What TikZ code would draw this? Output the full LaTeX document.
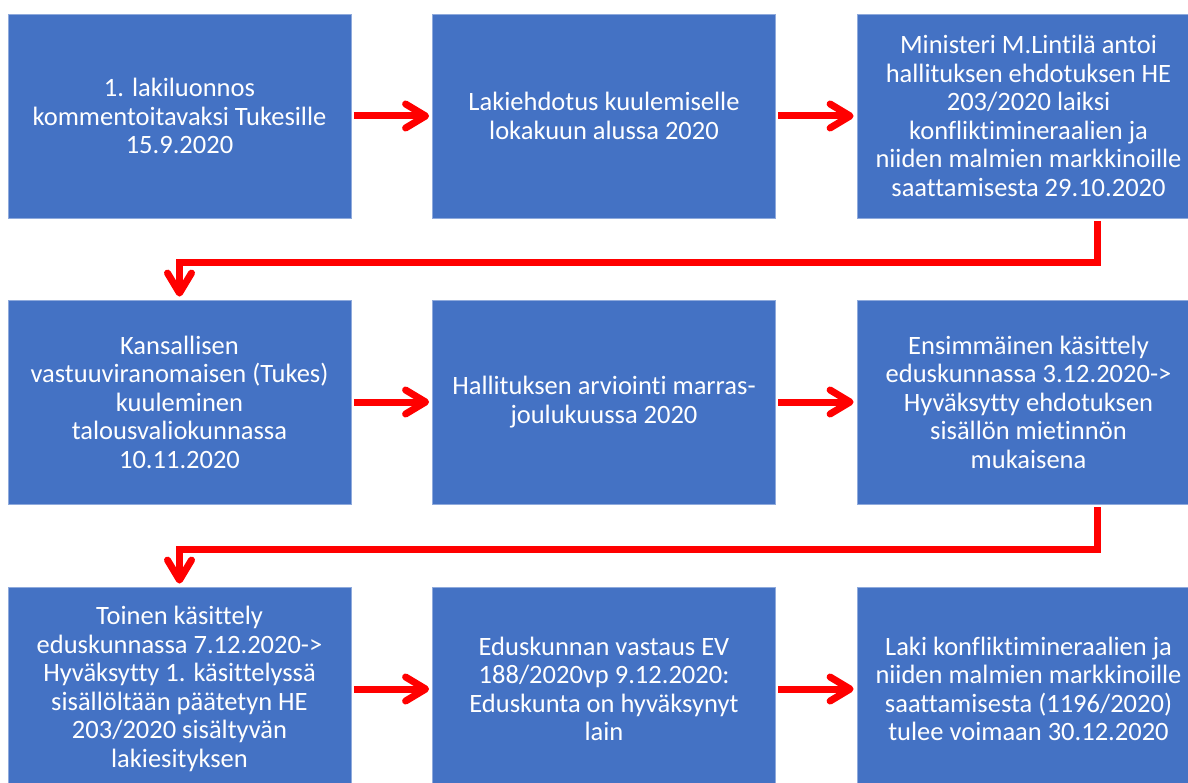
\documentclass[tikz,border=0pt]{standalone}
\usepackage{fontspec}
\setmainfont{Carlito}[Ligatures=NoCommon]
\usetikzlibrary{arrows.meta}
\definecolor{boxblue}{HTML}{4472C4}
\definecolor{boxedge}{HTML}{8FAADC}
\definecolor{arrred}{HTML}{FF0000}
\begin{document}
\begin{tikzpicture}[x=1pt,y=1pt,
  stepbox/.style={rectangle, fill=boxblue, draw=boxedge, line width=0.8pt,
    minimum width=343pt, minimum height=204pt, inner sep=0pt,
    text=white, align=center, font=\fontsize{26.5}{28.5}\selectfont},
  flow/.style={draw=arrred, line width=7pt,
    -{Straight Barb[length=20pt,width=24pt,line cap=round,line join=round]}},
  elbow/.style={draw=arrred, line width=7pt, line join=miter,
    -{Straight Barb[length=20pt,width=24pt,line cap=round,line join=round]}}]
\useasboundingbox (0,0) rectangle (1188,-783);
% row 1
\node[stepbox] (a1) at (179.5,-116) {1. lakiluonnos\\kommentoitavaksi Tukesille\\15.9.2020};
\node[stepbox] (a2) at (604,-116) {Lakiehdotus kuulemiselle\\lokakuun alussa 2020};
\node[stepbox] (a3) at (1028.5,-116) {Ministeri M.Lintilä antoi\\hallituksen ehdotuksen HE\\203/2020 laiksi\\konfliktimineraalien ja\\niiden malmien markkinoille\\saattamisesta 29.10.2020};
% row 2
\node[stepbox] (b1) at (179.5,-402) {Kansallisen\\vastuuviranomaisen (Tukes)\\kuuleminen\\talousvaliokunnassa\\10.11.2020};
\node[stepbox] (b2) at (604,-402) {Hallituksen arviointi marras-\\joulukuussa 2020};
\node[stepbox] (b3) at (1028.5,-402) {Ensimmäinen käsittely\\eduskunnassa 3.12.2020->\\Hyväksytty ehdotuksen\\sisällön mietinnön\\mukaisena};
% row 3
\node[stepbox] (c1) at (179.5,-689) {Toinen käsittely\\eduskunnassa 7.12.2020->\\Hyväksytty 1. käsittelyssä\\sisällöltään päätetyn HE\\203/2020 sisältyvän\\lakiesityksen};
\node[stepbox] (c2) at (604,-689) {Eduskunnan vastaus EV\\188/2020vp 9.12.2020:\\Eduskunta on hyväksynyt\\lain};
\node[stepbox] (c3) at (1028.5,-689) {Laki konfliktimineraalien ja\\niiden malmien markkinoille\\saattamisesta (1196/2020)\\tulee voimaan 30.12.2020};
% horizontal arrows
\draw[flow, shorten <=2.5pt, shorten >=3pt] (a1.east) -- (a2.west);
\draw[flow, shorten <=2.5pt, shorten >=3pt] (a2.east) -- (a3.west);
\draw[flow, shorten <=2.5pt, shorten >=3pt] (b1.east) -- (b2.west);
\draw[flow, shorten <=2.5pt, shorten >=3pt] (b2.east) -- (b3.west);
\draw[flow, shorten <=2.5pt, shorten >=3pt] (c1.east) -- (c2.west);
\draw[flow, shorten <=2.5pt, shorten >=3pt] (c2.east) -- (c3.west);
% elbow connectors
\coordinate (e1) at ([xshift=68.5pt,yshift=-3pt]a3.south);
\draw[elbow, shorten >=3pt] (e1) -- ++(0,-41) -| (b1.north);
\coordinate (e2) at ([xshift=68.5pt,yshift=-3pt]b3.south);
\draw[elbow, shorten >=3pt] (e2) -- ++(0,-42) -| (c1.north);
\end{tikzpicture}
\end{document}
